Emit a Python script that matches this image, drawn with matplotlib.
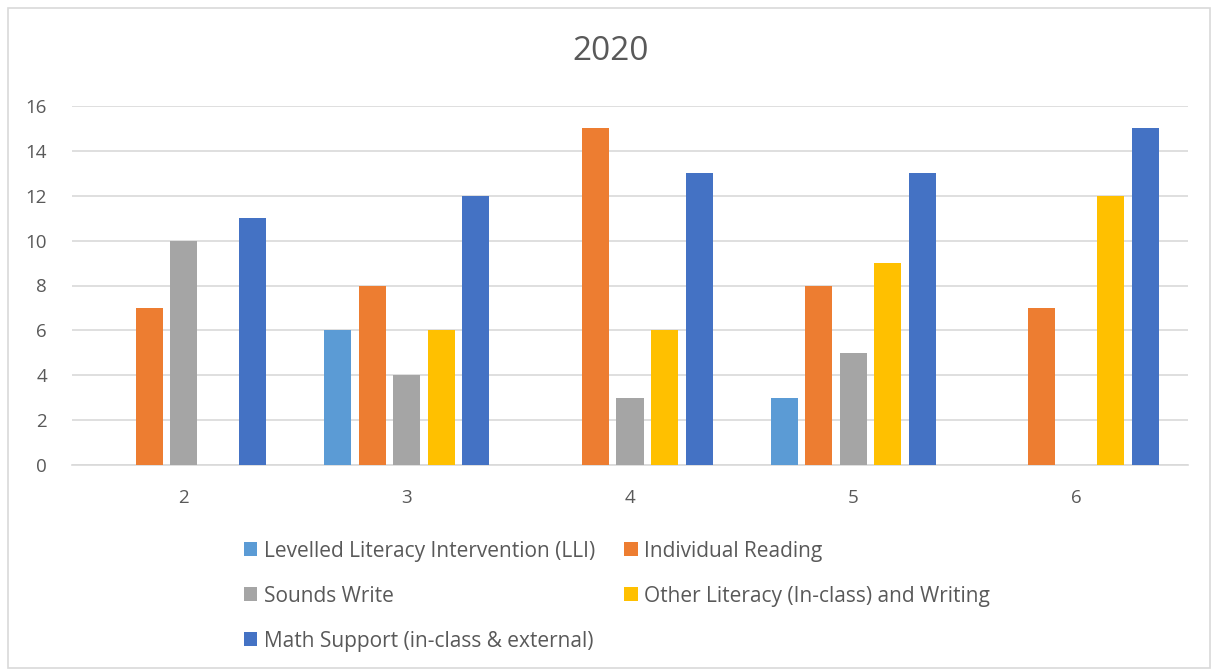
import matplotlib
matplotlib.use("Agg")
import matplotlib.pyplot as plt
import numpy as np
from matplotlib.patches import Rectangle

plt.rcParams['font.family'] = ['Open Sans', 'DejaVu Sans']

categories = ['2', '3', '4', '5', '6']
series_names = ['Levelled Literacy Intervention (LLI)', 'Individual Reading',
                'Sounds Write', 'Other Literacy (In-class) and Writing',
                'Math Support (in-class & external)']
lli = [np.nan, 6, np.nan, 3, np.nan]
individual_reading = [7, 8, 15, 8, 7]
sounds_write = [10, 4, 3, 5, np.nan]
other_literacy = [np.nan, 6, 6, 9, 12]
math_support = [11, 12, 13, 13, 15]
colors = ['#5B9BD5', '#ED7D31', '#A5A5A5', '#FFC000', '#4472C4']

series = [lli, individual_reading, sounds_write, other_literacy, math_support]
text_color = '#595959'

fig = plt.figure(figsize=(12.14, 6.71), dpi=100)
ax = fig.add_axes([72/1214, 1-465/671, (1188-72)/1214, (465-106)/671])

x = np.arange(len(categories))
step = 0.155
width = 0.121
handles = []
for i, (vals, c) in enumerate(zip(series, colors)):
    h = ax.bar(x + (i-2)*step, vals, width=width, color=c, zorder=3)
    handles.append(h)

ax.set_xlim(-0.5, len(categories)-0.5)
ax.set_ylim(0, 16)
ax.set_yticks(range(0, 17, 2))
ax.set_xticks(x)
ax.set_xticklabels(categories)
ax.grid(axis='y', color='#D9D9D9', linewidth=1.2, zorder=0)
for s in ['top', 'right', 'left']:
    ax.spines[s].set_visible(False)
ax.spines['bottom'].set_color('#D9D9D9')
ax.spines['bottom'].set_linewidth(1.2)
ax.tick_params(axis='both', length=0, labelsize=13.5, colors=text_color)
ax.tick_params(axis='y', pad=18)
ax.tick_params(axis='x', pad=17)

fig.text(611/1214, 1-51/671, '2020', ha='center', va='center', fontsize=24, color=text_color)

# row-wise legend ordering for 2 columns
order = [0, 2, 4, 1, 3]
leg = fig.legend([handles[i] for i in order], [series_names[i] for i in order],
                 ncol=2, loc='upper left',
                 bbox_to_anchor=(225/1214, 1-522/671), frameon=False,
                 fontsize=15, labelcolor=text_color, handlelength=0.65,
                 handleheight=0.65, handletextpad=0.3, columnspacing=1.4,
                 labelspacing=1.15)

fig.patches.append(Rectangle((8/1214, 3/671), 1202/1214, 660/671, transform=fig.transFigure,
                             fill=False, edgecolor='#D9D9D9', linewidth=1.2))

fig.savefig('out.png', dpi=100)
